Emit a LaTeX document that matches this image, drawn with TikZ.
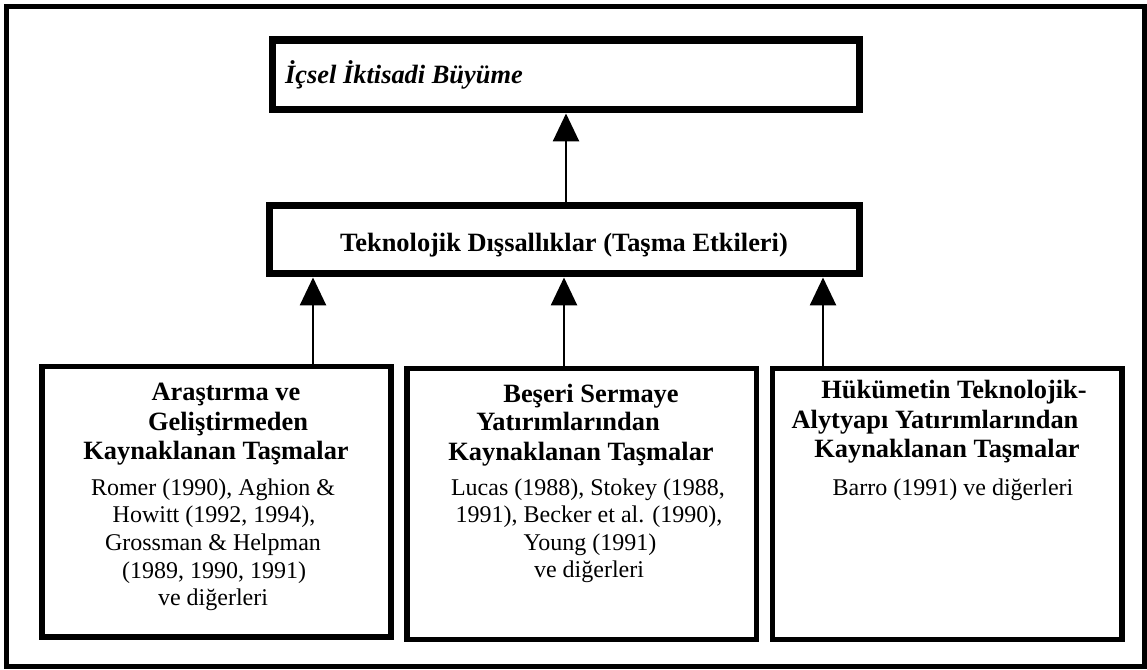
\documentclass[tikz,border=0pt]{standalone}
\usepackage{fontspec}
\setmainfont{Liberation Serif}
\usetikzlibrary{arrows.meta}
\begin{document}
\begin{tikzpicture}[x=1pt,y=-1pt,
  frame/.style={draw=black,line width=5pt},
  mainbox/.style={draw=black,line width=7.5pt},
  srcbox/.style={draw=black,line width=5.5pt},
  head/.style={font=\fontsize{26.4}{30}\selectfont\bfseries,anchor=base,inner sep=0pt},
  ref/.style={font=\fontsize{24}{27.5}\selectfont,anchor=base,inner sep=0pt},
  uparrow/.style={line width=2.6pt,-{Triangle[length=28pt,width=26pt]}}]
\useasboundingbox (0,0) rectangle (1147,669);
\fill[white] (0,0) rectangle (1147,669);
% outer frame
\draw[frame] (6.5,6.5) rectangle (1144.5,666.5);

% boxes
\draw[mainbox] (272.5,40) rectangle (859.5,109.5);
\coordinate (topS) at (566,113.25);
\coordinate (topN) at (566,36.25);
\draw[mainbox] (269.5,205.5) rectangle (859.5,273.5);
\coordinate (midN) at (566,201.75);
\coordinate (midS) at (566,277.25);
\draw[srcbox] (42,366.5) rectangle (391,637);
\draw[srcbox] (407,368.5) rectangle (756.5,639.5);
\draw[srcbox] (772.5,368.5) rectangle (1122,639.5);

% node anchors for the connectors
\node[inner sep=0pt,minimum size=0pt] (growth) at (566,113.25) {};
\node[inner sep=0pt,minimum size=0pt] (tech) at (566,201.75) {};
\node[inner sep=0pt,minimum size=0pt] (techL) at (313,277.25) {};
\node[inner sep=0pt,minimum size=0pt] (techM) at (564,277.25) {};
\node[inner sep=0pt,minimum size=0pt] (techR) at (823,277.25) {};
\node[inner sep=0pt,minimum size=0pt] (rd) at (313,363.75) {};
\node[inner sep=0pt,minimum size=0pt] (hc) at (564,365.75) {};
\node[inner sep=0pt,minimum size=0pt] (gov) at (823,365.75) {};

% texts of the two upper boxes
\node[head,anchor=base west,font=\fontsize{26.4}{30}\selectfont\bfseries\itshape] (growthtxt) at (285,83) {İçsel İktisadi Büyüme};
\node[head] (techtxt) at (564,251) {Teknolojik Dışsallıklar (Taşma Etkileri)};

% research and development
\node[head] (a1) at (226,400) {Araştırma ve};
\node[head] (a2) at (228,430) {Geliştirmeden};
\node[head] (a3) at (216,459) {Kaynaklanan Taşmalar};
\node[ref] (a4) at (213,495) {Romer (1990), Aghion \&};
\node[ref] (a5) at (214,522) {Howitt (1992, 1994),};
\node[ref] (a6) at (213,550) {Grossman \& Helpman};
\node[ref] (a7) at (214,578) {(1989, 1990, 1991)};
\node[ref] (a8) at (213,605) {ve diğerleri};

% human capital
\node[head] (b1) at (591,402) {Beşeri Sermaye};
\node[head] (b2) at (568,430) {Yatırımlarından};
\node[head] (b3) at (581,460) {Kaynaklanan Taşmalar};
\node[ref] (b4) at (588,495) {Lucas (1988), Stokey (1988,};
\node[ref] (b5) at (589,522) {1991), Becker et al. (1990),};
\node[ref] (b6) at (590,550) {Young (1991)};
\node[ref] (b7) at (589,577) {ve diğerleri};

% government infrastructure
\node[head] (c1) at (954,398) {Hükümetin Teknolojik-};
\node[head] (c2) at (935,428) {Alytyapı Yatırımlarından};
\node[head] (c3) at (947,457) {Kaynaklanan Taşmalar};
\node[ref] (c4) at (953,495) {Barro (1991) ve diğerleri};

% connectors
\draw[uparrow] (tech) -- (growth);
\draw[uparrow] (rd) -- (techL);
\draw[uparrow] (hc) -- (techM);
\draw[uparrow] (gov) -- (techR);
\end{tikzpicture}
\end{document}
